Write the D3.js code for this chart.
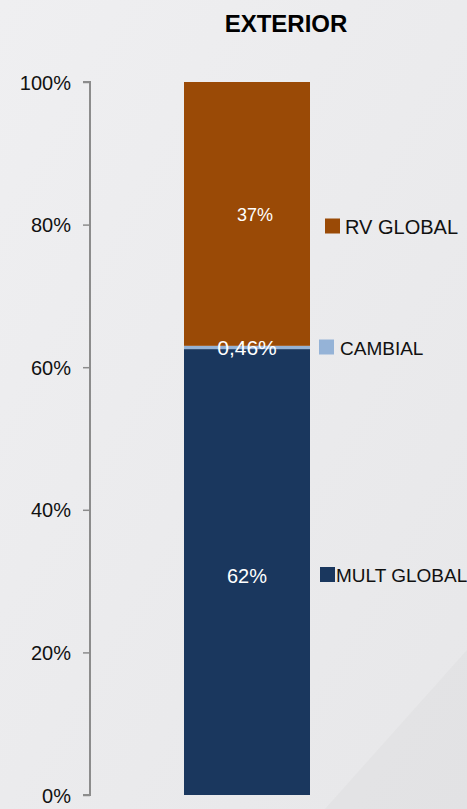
<!DOCTYPE html>
<html><head><meta charset="utf-8">
<script src="https://cdn.jsdelivr.net/npm/d3@7"></script>
<style>
html,body{margin:0;padding:0;}
body{width:467px;height:809px;overflow:hidden;font-family:"Liberation Sans",Arial,sans-serif;}
</style></head>
<body>
<svg id="chart" width="467" height="809"></svg>
<script>
const title = "EXTERIOR";
const categories = ["EXTERIOR"];
const seriesNames = ["MULT GLOBAL", "CAMBIAL", "RV GLOBAL"];
const seriesValues = [62.54, 0.46, 37.0];
const seriesLabels = ["62%", "0,46%", "37%"];
const seriesColors = ["#1a375e", "#95b3d7", "#9a4a06"];
const tickValues = [0, 20, 40, 60, 80, 100];
const tickLabels = ["0%", "20%", "40%", "60%", "80%", "100%"];

const svg = d3.select("#chart");
const W = 467, H = 809;

// background
const defs = svg.append("defs");
const g1 = defs.append("linearGradient").attr("id","bg").attr("x1","0").attr("y1","0").attr("x2","1").attr("y2","1");
g1.append("stop").attr("offset","0").attr("stop-color","#efeff1");
g1.append("stop").attr("offset","1").attr("stop-color","#e7e7e9");
svg.append("rect").attr("width",W).attr("height",H).attr("fill","url(#bg)");
svg.append("polygon").attr("points","325,809 467,650 467,809").attr("fill","#dfdfe1").attr("opacity",0.6);

const y = d3.scaleLinear().domain([0,100]).range([795,82]);
const x = d3.scaleBand().domain(categories).range([184,310]).padding(0);

// title
svg.append("text").attr("x",286).attr("y",32).attr("text-anchor","middle")
  .attr("font-size",24).attr("font-weight","bold").attr("fill","#000").text(title);

// axis
const axis = d3.axisLeft(y).tickValues(tickValues).tickSize(7).tickPadding(12)
  .tickFormat((d,i)=>tickLabels[i]);
const ag = svg.append("g").attr("transform","translate(90,0)").call(axis);
ag.select(".domain").attr("stroke","#8c8c8c").attr("stroke-width",2).attr("d","M-7,82H0V795H-7");
ag.selectAll(".tick line").attr("stroke","#8c8c8c").attr("stroke-width",1.5);
ag.selectAll(".tick text").attr("font-size",20).attr("fill","#111")
  .attr("font-family","'Liberation Sans',Arial,sans-serif").attr("dy","0.35em");

// stacked data
const rows = [Object.fromEntries(seriesNames.map((n,i)=>[n,seriesValues[i]]))];
const stack = d3.stack().keys(seriesNames)(rows);

const bx = x(categories[0]), bw = x.bandwidth();
stack.forEach((s,i)=>{
  svg.append("rect").attr("x",bx).attr("width",bw)
    .attr("y",y(s[0][1])).attr("height",y(s[0][0])-y(s[0][1]))
    .attr("fill",seriesColors[i]);
});

// labels
const labelFont = [20, 21, 18];
const labelDx = [0, 0, 8];
const labelDy = [11, 8, 7];
stack.forEach((s,i)=>{
  const cy = (y(s[0][0])+y(s[0][1]))/2;
  svg.append("text").attr("x",bx+bw/2+labelDx[i]).attr("y",cy+labelDy[i])
    .attr("text-anchor","middle").attr("font-size",labelFont[i]).attr("fill","#fff")
    .text(seriesLabels[i]);
});

// legend
const legY = [574.5, 347, 226];
const legX = [320, 319, 325];
const legGap = [16, 21, 20];
const legFont = [19, 19, 20];
seriesNames.forEach((n,i)=>{
  svg.append("rect").attr("x",legX[i]).attr("y",legY[i]-7.5).attr("width",15).attr("height",15)
    .attr("fill",seriesColors[i]);
  svg.append("text").attr("x",legX[i]+legGap[i]).attr("y",legY[i]+7.5)
    .attr("font-size",legFont[i]).attr("fill","#111").text(n);
});
</script>
</body></html>
